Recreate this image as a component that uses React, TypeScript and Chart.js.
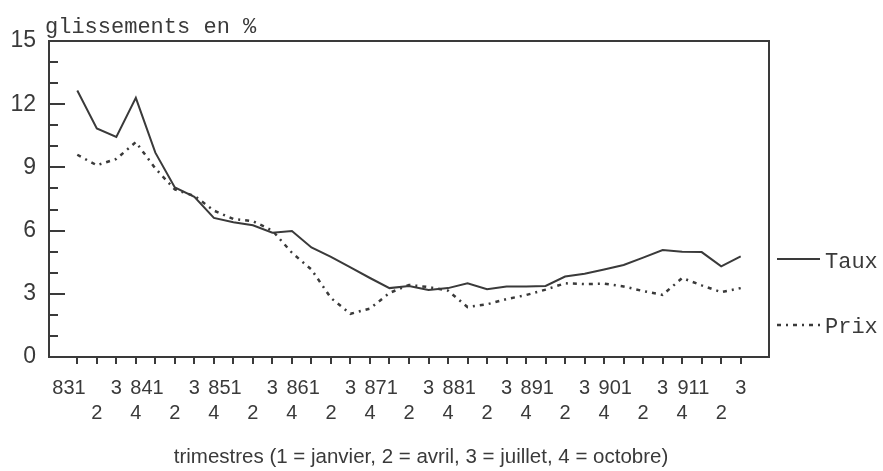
import { useEffect, useRef } from "react";
import { Chart, registerables } from "chart.js";

Chart.register(...registerables);

// quarter labels (year+quarter on Q1, quarter number otherwise)
const quarters = [
  "831", "2", "3", "4", "841", "2", "3", "4", "851", "2", "3", "4",
  "861", "2", "3", "4", "871", "2", "3", "4", "881", "2", "3", "4",
  "891", "2", "3", "4", "901", "2", "3", "4", "911", "2", "3",
];
const taux = [
  12.65, 10.85, 10.45, 12.3, 9.7, 8.05, 7.6, 6.6, 6.4, 6.25, 5.9, 5.98,
  5.2, 4.75, 4.25, 3.75, 3.27, 3.37, 3.18, 3.27, 3.5, 3.22, 3.35, 3.35,
  3.37, 3.82, 3.95, 4.15, 4.37, 4.72, 5.08, 5.0, 4.98, 4.3, 4.78,
];
const prix = [
  9.6, 9.1, 9.4, 10.2, 8.95, 7.95, 7.65, 6.95, 6.55, 6.45, 6.0, 4.95,
  4.15, 2.8, 2.05, 2.3, 3.04, 3.42, 3.32, 3.15, 2.37, 2.5, 2.75, 2.94,
  3.2, 3.5, 3.46, 3.48, 3.35, 3.13, 2.95, 3.75, 3.4, 3.08, 3.27,
];
const yLabelTicks = [0, 3, 6, 9, 12, 15];
const yTitle = "glissements en %";
const xTitle = "trimestres (1 = janvier, 2 = avril, 3 = juillet, 4 = octobre)";
const seriesNames = ["Taux", "Prix"];

const INK = "#3a3a3a";
const MONO = '"Liberation Mono", "DejaVu Sans Mono", monospace';
const SANS = '"Liberation Sans", Arial, sans-serif';

const decor = {
  id: "decor",
  afterDraw(chart: any) {
    const { ctx, chartArea: a, scales } = chart;
    ctx.save();
    ctx.strokeStyle = INK;
    ctx.lineWidth = 2;
    ctx.setLineDash([]);
    ctx.strokeRect(a.left, a.top, a.right - a.left, a.bottom - a.top);
    // inward y ticks
    const y = scales.y;
    y.ticks.forEach((t: any) => {
      const py = Math.round(y.getPixelForValue(t.value));
      const len = yLabelTicks.includes(t.value) ? 16 : 9;
      ctx.beginPath();
      ctx.moveTo(a.left, py);
      ctx.lineTo(a.left + len, py);
      ctx.stroke();
    });
    // titles
    ctx.fillStyle = INK;
    ctx.textBaseline = "alphabetic";
    ctx.textAlign = "left";
    ctx.font = `22px ${MONO}`;
    ctx.fillText(yTitle, 45, 33);
    ctx.textAlign = "center";
    ctx.font = `20.5px ${SANS}`;
    ctx.fillText(xTitle, 421, 463);
    // legend
    const rows = [
      { ly: 259, ty: 268 },
      { ly: 325, ty: 333 },
    ];
    chart.data.datasets.forEach((ds: any, i: number) => {
      const r = rows[i];
      ctx.strokeStyle = ds.borderColor;
      ctx.lineWidth = ds.borderWidth;
      ctx.setLineDash(ds.borderDash || []);
      ctx.beginPath();
      ctx.moveTo(777, r.ly);
      ctx.lineTo(820, r.ly);
      ctx.stroke();
      ctx.setLineDash([]);
      ctx.textAlign = "left";
      ctx.font = `22px ${MONO}`;
      ctx.fillText(ds.label, 825, r.ty);
    });
    ctx.restore();
  },
};

export default function App() {
  const ref = useRef<HTMLCanvasElement | null>(null);
  useEffect(() => {
    if (!ref.current) return;
    const chart = new Chart(ref.current, {
      type: "line",
      data: {
        datasets: [
          {
            label: seriesNames[0],
            data: taux.map((v, i) => ({ x: i, y: v })),
            borderColor: INK,
            borderWidth: 2,
            pointRadius: 0,
            fill: false,
            tension: 0,
          },
          {
            label: seriesNames[1],
            data: prix.map((v, i) => ({ x: i, y: v })),
            borderColor: INK,
            borderWidth: 2.5,
            borderDash: [4, 5, 2, 5],
            pointRadius: 0,
            fill: false,
            tension: 0,
          },
        ],
      },
      options: {
        animation: false,
        responsive: false,
        devicePixelRatio: 1,
        layout: { padding: { left: 0, top: 41, right: 114, bottom: 0 } },
        plugins: { legend: { display: false }, tooltip: { enabled: false } },
        scales: {
          x: {
            type: "linear",
            min: -1.45,
            max: 35.45,
            afterBuildTicks: (s: any) => {
              s.ticks = quarters.map((_, i) => ({ value: i }));
            },
            afterFit: (s: any) => {
              s.height = 114;
            },
            border: { display: false },
            grid: {
              display: true,
              drawOnChartArea: false,
              drawTicks: true,
              tickLength: 7,
              color: INK,
              lineWidth: 2,
            },
            ticks: {
              autoSkip: false,
              maxRotation: 0,
              minRotation: 0,
              padding: 12,
              color: INK,
              font: { family: SANS, size: 20, lineHeight: 1.25 },
              callback: (v: any) => {
                const i = Math.round(Number(v));
                const lab = quarters[i] ?? "";
                if (i % 4 === 0) return [lab + "   ", ""];
                return i % 2 === 0 ? [lab, ""] : ["", lab];
              },
            },
          },
          y: {
            type: "linear",
            min: 0,
            max: 15,
            afterFit: (s: any) => {
              s.width = 49;
            },
            border: { display: false },
            grid: { display: false, drawTicks: false },
            ticks: {
              stepSize: 1,
              autoSkip: false,
              padding: 13,
              color: INK,
              font: { family: SANS, size: 23 },
              callback: (v: any) =>
                yLabelTicks.includes(Number(v)) ? String(v) : "",
            },
          },
        },
      },
      plugins: [decor],
    });
    return () => chart.destroy();
  }, []);
  return (
    <div
      style={{
        position: "fixed",
        left: 0,
        top: 0,
        width: 883,
        height: 471,
        background: "#fff",
      }}
    >
      <canvas ref={ref} width={883} height={471} />
    </div>
  );
}
